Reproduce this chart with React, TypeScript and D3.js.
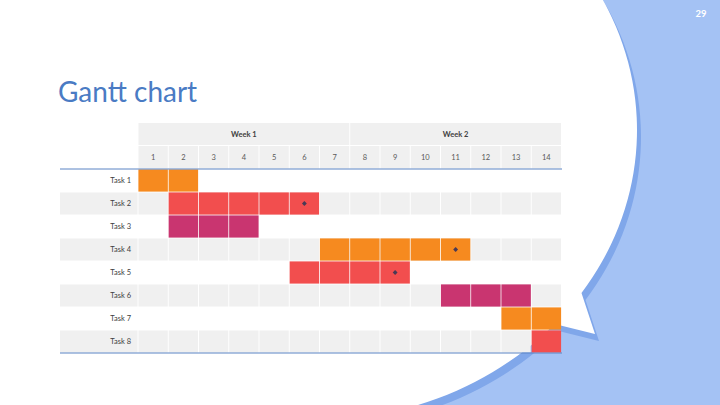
import React from "react";
import * as d3 from "d3";

const dayLabels = ["1", "2", "3", "4", "5", "6", "7", "8", "9", "10", "11", "12", "13", "14"];
const weekLabels = ["Week 1", "Week 2"];
const weekStartDay = [1, 8];
const weekEndDay = [7, 14];
const taskNames = ["Task 1", "Task 2", "Task 3", "Task 4", "Task 5", "Task 6", "Task 7", "Task 8"];
const taskStart = [1, 2, 2, 7, 6, 11, 13, 14];
const taskEnd = [2, 6, 4, 11, 9, 13, 14, 14];
const taskKind = [0, 1, 2, 0, 1, 2, 0, 1];
const taskMilestone: (number | null)[] = [null, 6, null, 11, 9, null, null, null];
const kindColors = ["#F68A1F", "#F24E4E", "#C93570"];

const W = 720;
const H = 405;
const FONT = "Lato, 'Open Sans', sans-serif";

function bubblePath(): string {
  const cx = 316, cy = 130, rx = 321, ry = 290;
  const onEllipse = (y: number) => cx + rx * Math.sqrt(1 - ((y - cy) / ry) ** 2);
  const yA = 293, yB = 324;
  const ax = onEllipse(yA), bx = onEllipse(yB);
  const tip = [595, 334];
  const p = d3.path();
  p.moveTo(ax, yA);
  p.lineTo(tip[0], tip[1]);
  p.lineTo(bx, yB);
  return p.toString() + ` A ${rx} ${ry} 0 1 1 ${ax} ${yA} Z`;
}

export default function App() {
  const x = d3.scaleBand<string>().domain(dayLabels).range([138, 561.5]);
  const y = d3.scaleBand<string>().domain(taskNames).range([169, 353]);
  const rowH = y.bandwidth();
  const bw = x.bandwidth();
  const headTop = 123;
  const weekRowH = 23;
  const numRowH = 23;
  const labelLeft = 60;
  const bubble = bubblePath();
  const diamond = d3.symbol().type(d3.symbolSquare).size(12)() as string;

  return (
    <svg
      width={W}
      height={H}
      viewBox={`0 0 ${W} ${H}`}
      style={{ position: "absolute", left: 0, top: 0, display: "block" }}
    >
      <rect x={0} y={0} width={W} height={H} fill="#A4C2F4" />
      <g>
        <rect x={4} y={7} width={320} height={H} fill="#80A7EA" />
        <path d={bubble} transform="translate(4,7)" fill="#80A7EA" />
        <rect x={0} y={0} width={320} height={H} fill="#FFFFFF" />
        <path d={bubble} fill="#FFFFFF" />
      </g>

      <text x={701} y={17} textAnchor="middle" fontFamily={FONT} fontWeight={700} fontSize={9.5} fill="#FFFFFF">
        29
      </text>

      <text x={58} y={102} fontFamily={FONT} fontSize={28} fill="#4A7BC4">
        Gantt chart
      </text>

      {weekLabels.map((w, i) => {
        const x0 = x(dayLabels[weekStartDay[i] - 1])!;
        const x1 = x(dayLabels[weekEndDay[i] - 1])! + bw;
        return (
          <g key={w}>
            <rect x={x0 + 0.5} y={headTop} width={x1 - x0 - 1} height={weekRowH - 1} fill="#F0F0F0" />
            <text
              x={(x0 + x1) / 2}
              y={headTop + weekRowH / 2}
              dy="0.35em"
              textAnchor="middle"
              fontFamily={FONT}
              fontWeight={700}
              fontSize={7.5}
              fill="#404040"
            >
              {w}
            </text>
          </g>
        );
      })}

      {dayLabels.map((d) => (
        <g key={d}>
          <rect x={x(d)! + 0.5} y={headTop + weekRowH} width={bw - 1} height={numRowH - 0.5} fill="#F0F0F0" />
          <text
            x={x(d)! + bw / 2}
            y={headTop + weekRowH + numRowH / 2}
            dy="0.35em"
            textAnchor="middle"
            fontFamily={FONT}
            fontSize={7.5}
            fill="#595959"
          >
            {d}
          </text>
        </g>
      ))}

      {taskNames.map((t, i) => {
        const ry = y(t)!;
        const shaded = i % 2 === 1;
        return (
          <g key={t}>
            {shaded && (
              <>
                <rect x={labelLeft} y={ry + 0.5} width={x(dayLabels[0])! - labelLeft - 0.5} height={rowH - 1} fill="#F0F0F0" />
                {dayLabels.map((d) => (
                  <rect key={d} x={x(d)! + 0.5} y={ry + 0.5} width={bw - 1} height={rowH - 1} fill="#F0F0F0" />
                ))}
              </>
            )}
            <text
              x={131}
              y={ry + rowH / 2}
              dy="0.35em"
              textAnchor="end"
              fontFamily={FONT}
              fontSize={7.5}
              fill="#404040"
            >
              {t}
            </text>
          </g>
        );
      })}

      {taskNames.map((t, i) => {
        const ry = y(t)!;
        const days = dayLabels.filter((d) => +d >= taskStart[i] && +d <= taskEnd[i]);
        return (
          <g key={"bar" + t}>
            {days.map((d) => (
              <rect
                key={d}
                x={x(d)! + 0.4}
                y={ry + 0.4}
                width={bw - 0.8}
                height={rowH - 0.8}
                fill={kindColors[taskKind[i]]}
              />
            ))}
            {taskMilestone[i] !== null && (
              <path
                d={diamond}
                transform={`translate(${x(String(taskMilestone[i]))! + bw / 2},${ry + rowH / 2}) rotate(45)`}
                fill="#4A3A55"
              />
            )}
          </g>
        );
      })}

      <line x1={labelLeft} x2={562} y1={169} y2={169} stroke="#5B84C4" strokeWidth={1} />
      <line x1={labelLeft} x2={562} y1={353} y2={353} stroke="#5B84C4" strokeWidth={1} />
    </svg>
  );
}
